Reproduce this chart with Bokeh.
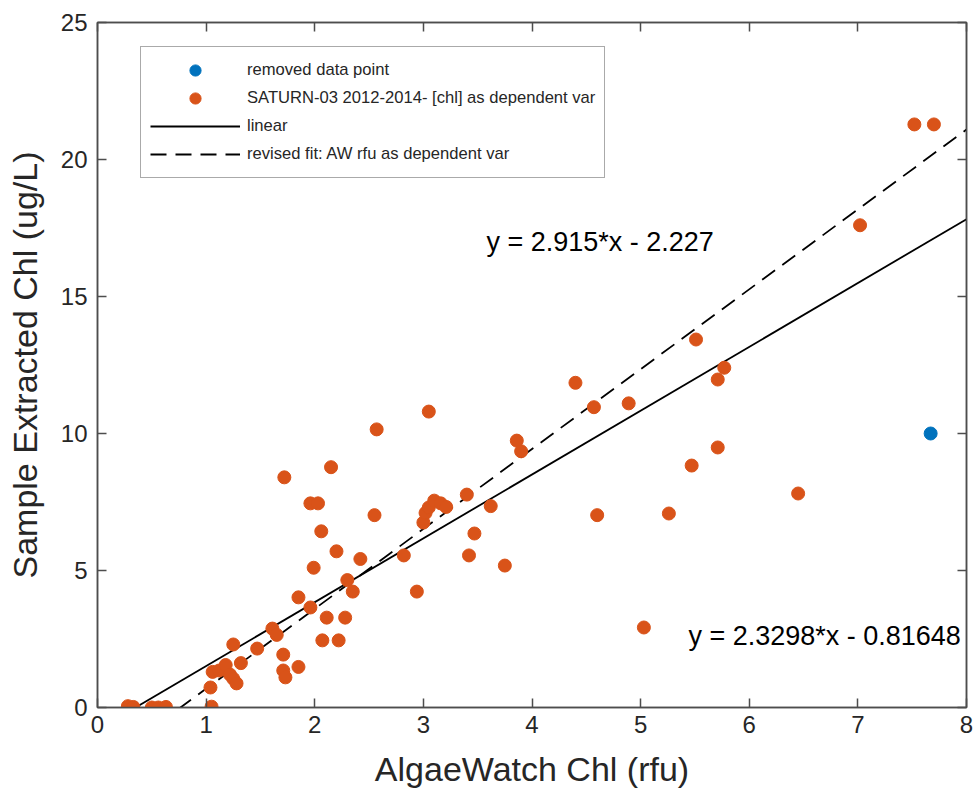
import numpy as np
from bokeh.plotting import figure
from bokeh.models import (Legend, LegendItem, LinearAxis, FixedTicker, Label)
from bokeh.embed import file_html
from bokeh.resources import INLINE

# ---- data ----
sat_x = [0.28, 0.33, 0.50, 0.56, 0.63, 1.05, 1.04, 1.06, 1.12, 1.18, 1.22, 1.25, 1.28, 1.32,
         1.25, 1.47, 1.61, 1.65, 1.71, 1.71, 1.73, 1.85, 1.85, 1.96, 2.11, 2.28, 2.07, 2.22,
         2.30, 2.35, 1.99, 2.20, 2.42, 2.06, 1.96, 2.03, 1.72, 2.15, 2.55, 2.57, 2.82, 2.94,
         3.00, 3.02, 3.05, 3.10, 3.16, 3.21, 3.05, 3.40, 3.62, 3.47, 3.42, 3.75, 3.86, 3.90,
         4.40, 4.57, 4.89, 4.60, 5.03, 5.26, 5.47, 5.51, 5.71, 5.71, 5.77, 6.45, 7.02, 7.52, 7.70]
sat_y = [0.05, 0.02, 0.00, 0.00, 0.02, 0.03, 0.73, 1.30, 1.35, 1.55, 1.20, 1.05, 0.88, 1.62,
         2.30, 2.15, 2.88, 2.65, 1.93, 1.35, 1.10, 1.48, 4.02, 3.65, 3.28, 3.28, 2.45, 2.45,
         4.65, 4.23, 5.10, 5.70, 5.42, 6.43, 7.45, 7.45, 8.40, 8.77, 7.02, 10.15, 5.55, 4.23,
         6.75, 7.10, 7.30, 7.55, 7.45, 7.32, 10.80, 7.77, 7.35, 6.35, 5.55, 5.18, 9.74, 9.35,
         11.85, 10.96, 11.10, 7.02, 2.92, 7.08, 8.83, 13.43, 9.49, 11.97, 12.40, 7.81, 17.60, 21.28, 21.28]

removed_x = [7.67]
removed_y = [10.0]

linear_slope, linear_intercept = 2.3298, -0.81648
revised_slope, revised_intercept = 2.915, -2.227

x_ticks = [0, 1, 2, 3, 4, 5, 6, 7, 8]
y_ticks = [0, 5, 10, 15, 20, 25]

legend_labels = ["removed data point",
                 "SATURN-03 2012-2014- [chl] as dependent var",
                 "linear",
                 "revised fit: AW rfu as dependent var"]

# ---- style ----
FONT = "Liberation Sans"
ORANGE = "#D95319"
BLUE = "#0072BD"
AXIS_C = "#4d4d4d"
TEXT_C = "#262626"

X_MIN, X_MAX = 0, 8
Y_MIN, Y_MAX = 0, 25

p = figure(width=973, height=795, x_range=(X_MIN, X_MAX), y_range=(Y_MIN, Y_MAX),
           output_backend="svg", toolbar_location=None,
           min_border_left=97, min_border_top=22, min_border_right=7, min_border_bottom=88,
           x_axis_label="AlgaeWatch Chl (rfu)", y_axis_label="Sample Extracted Chl (ug/L)")
p.grid.visible = False
p.outline_line_color = AXIS_C
p.outline_line_width = 1.5

for ax in (p.xaxis[0], p.yaxis[0]):
    ax.major_tick_in = 9
    ax.major_tick_out = 0
    ax.minor_tick_line_color = None
    ax.axis_line_color = AXIS_C
    ax.axis_line_width = 1.5
    ax.major_tick_line_color = AXIS_C
    ax.major_tick_line_width = 1.5
    ax.major_label_text_font = FONT
    ax.major_label_text_font_size = "24px"
    ax.major_label_text_color = TEXT_C
    ax.axis_label_text_font = FONT
    ax.axis_label_text_font_size = "34px"
    ax.axis_label_text_font_style = "normal"
    ax.axis_label_text_color = TEXT_C

p.xaxis[0].ticker = FixedTicker(ticks=x_ticks)
p.yaxis[0].ticker = FixedTicker(ticks=y_ticks)
p.xaxis[0].major_label_standoff = 8
p.xaxis[0].axis_label_standoff = 14
p.yaxis[0].major_label_standoff = 10
p.yaxis[0].axis_label_standoff = 14

for loc, ticks in (("right", y_ticks), ("above", x_ticks)):
    ax = LinearAxis(ticker=FixedTicker(ticks=ticks),
                    major_label_overrides={t: "" for t in ticks},
                    major_label_standoff=0, major_tick_in=9, major_tick_out=0,
                    minor_tick_line_color=None, axis_line_color=AXIS_C, axis_line_width=1.5,
                    major_tick_line_color=AXIS_C, major_tick_line_width=1.5)
    p.add_layout(ax, loc)

# fit lines
fx = np.array([X_MIN, X_MAX], dtype=float)
r_lin = p.line(fx, linear_slope * fx + linear_intercept, line_color="black", line_width=1.8)
r_rev = p.line(fx, revised_slope * fx + revised_intercept, line_color="black", line_width=1.8,
               line_dash="16 9")

r_blue = p.scatter(removed_x, removed_y, size=13, fill_color=BLUE, line_color=BLUE)
r_or = p.scatter(sat_x, sat_y, size=13, fill_color=ORANGE, line_color=ORANGE)

# equations
p.add_layout(Label(x=3.58, y=17.0, text="y = %g*x - %g" % (revised_slope, -revised_intercept),
                   text_font=FONT, text_font_size="27px", text_color="black",
                   text_baseline="middle"))
p.add_layout(Label(x=5.44, y=2.6, text="y = %g*x - %g" % (linear_slope, -linear_intercept),
                   text_font=FONT, text_font_size="27px", text_color="black",
                   text_baseline="middle"))

legend = Legend(items=[LegendItem(label=legend_labels[0], renderers=[r_blue]),
                       LegendItem(label=legend_labels[1], renderers=[r_or]),
                       LegendItem(label=legend_labels[2], renderers=[r_lin]),
                       LegendItem(label=legend_labels[3], renderers=[r_rev])],
                location=(43, 529), label_text_font=FONT, label_text_font_size="16.6px",
                label_text_color=TEXT_C, glyph_width=90, glyph_height=28, label_height=28,
                spacing=0, padding=9, label_standoff=7, margin=0,
                border_line_color="#555555", border_line_width=1.5, background_fill_alpha=1)
p.add_layout(legend)

open("out.html", "w").write(file_html(p, INLINE))
